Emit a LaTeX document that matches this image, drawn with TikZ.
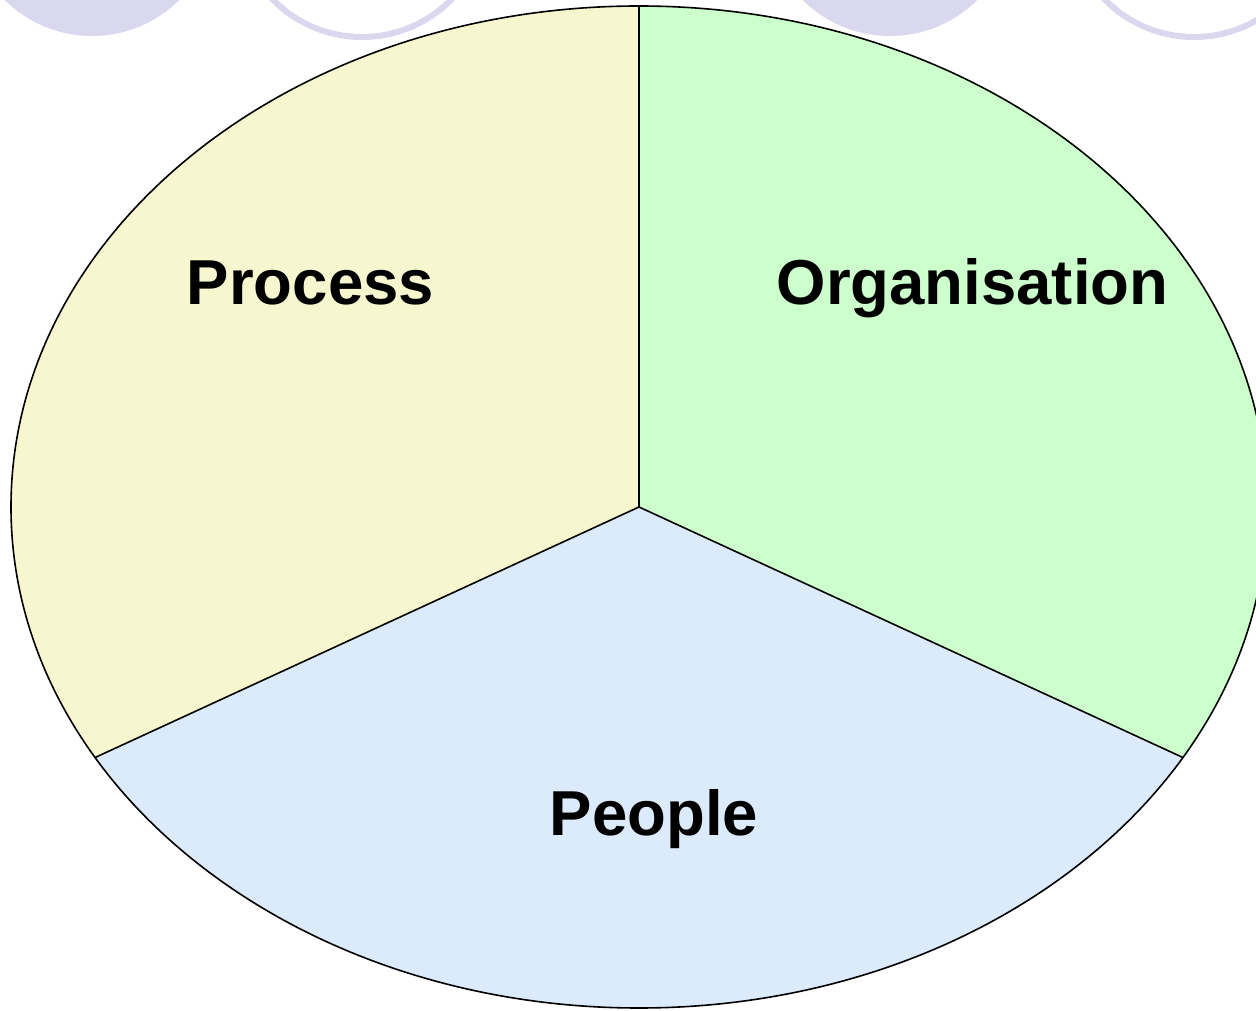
\documentclass[tikz,border=0pt]{standalone}
\usepackage{fontspec}
\setmainfont{Liberation Sans}
\definecolor{lav}{RGB}{217,216,238}
\definecolor{procfill}{RGB}{246,247,206}
\definecolor{orgfill}{RGB}{204,255,204}
\definecolor{peopfill}{RGB}{219,235,252}
\begin{document}
\begin{tikzpicture}[x=1pt,y=1pt,
  lbl/.style={font=\fontsize{63.5}{76}\selectfont\bfseries, anchor=base, inner sep=0pt},
  deco/.style={fill=lav, draw=none},
  decoring/.style={draw=lav, line width=6pt, fill=none},
  divider/.style={draw=black, line width=1.6pt},
  rim/.style={draw=black, line width=1.6pt}]
\useasboundingbox (0,0) rectangle (1256,1010);
\clip (0,0) rectangle (1256,1010);
% decorative circles at the top
\fill[deco] (92,1098) circle[radius=124];
\draw[decoring] (362,1098) circle[radius=125];
\fill[deco] (890,1098) circle[radius=124];
\draw[decoring] (1194,1098) circle[radius=125];
% sectors
\coordinate (c) at (639,503);
\path (c) ++(90:628 and 501) coordinate (ptop);
\path (c) ++(210:628 and 501) coordinate (pleft);
\path (c) ++(330:628 and 501) coordinate (pright);
\fill[procfill] (c) -- (ptop) arc[start angle=90,end angle=210,x radius=628,y radius=501] -- cycle;
\fill[peopfill] (c) -- (pleft) arc[start angle=210,end angle=330,x radius=628,y radius=501] -- cycle;
\fill[orgfill] (c) -- (pright) arc[start angle=330,end angle=450,x radius=628,y radius=501] -- cycle;
\draw[rim] (c) ellipse[x radius=628,y radius=501];
\draw[divider] (c) -- (ptop);
\draw[divider] (c) -- (pleft);
\draw[divider] (c) -- (pright);
% labels
\node[lbl] (process) at (310.5,705) {Process};
\node[lbl] (org) at (972.5,705) {Organisation};
\node[lbl] (people) at (654,174) {People};
\end{tikzpicture}
\end{document}
